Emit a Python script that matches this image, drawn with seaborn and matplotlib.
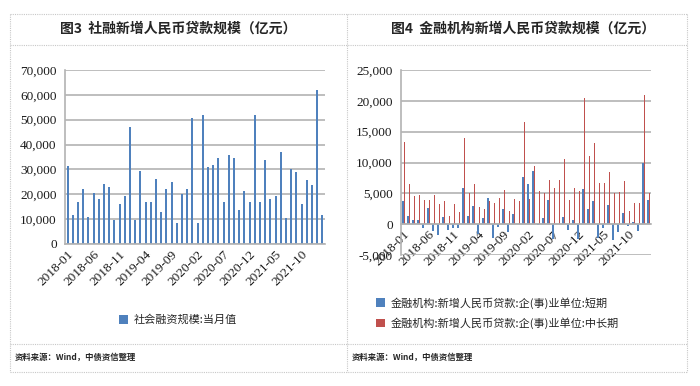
import pandas as pd
import matplotlib
matplotlib.use("Agg")
import matplotlib.pyplot as plt
from matplotlib.lines import Line2D
from matplotlib.ticker import FuncFormatter
import seaborn as sns

# Month categories 2018-01 .. 2022-02
months = pd.date_range("2018-01", periods=50, freq="MS").strftime("%Y-%m").tolist()

# Fig 3: social financing, monthly value (100m yuan)
social_financing = [31500, 11800, 17000, 22300, 11000, 20400, 18300, 24000, 23000, 9600,
                    16000, 19300, 47000, 9500, 29500, 16700, 17000, 26300, 12800, 22000,
                    25000, 8600, 20000, 22000, 50500, 8600, 51800, 31000, 31700, 34700,
                    16700, 35700, 34700, 13800, 21300, 17000, 51800, 17000, 33700, 18300,
                    19300, 37000, 10400, 30000, 28800, 16000, 25800, 23700, 62000, 11600]

# Fig 4: new RMB loans to enterprises, short term / medium-long term
short_term = [3700, 1400, 750, 750, -550, 2600, -1100, -1700, 1100, -1000,
              -700, -700, 5800, 1300, 3000, -1600, 1000, 4300, -2300, -500,
              2500, -1200, 1600, 100, 7700, 6500, 8700, -200, 1000, 3900,
              -2400, 100, 1200, -900, 600, -2400, 5700, 2400, 3800, -2200,
              -700, 3100, -2500, -1200, 1800, -300, 300, -1100, 10000, 4000]
mid_long = [13300, 6500, 4500, 4650, 4000, 4000, 4800, 3300, 3700, 1400,
            3200, 1900, 13900, 5000, 6500, 2800, 2400, 3700, 3500, 4200,
            5500, 2200, 4100, 3800, 16500, 4100, 9500, 5400, 5100, 7200,
            5800, 7100, 10500, 3900, 5800, 5400, 20400, 11000, 13200, 6600,
            6600, 8400, 5100, 5200, 7000, 2200, 3400, 3400, 21000, 5100]

label_sf = "社会融资规模:当月值"
label_short = "金融机构:新增人民币贷款:企(事)业单位:短期"
label_long = "金融机构:新增人民币贷款:企(事)业单位:中长期"

BLUE = "#4F81BD"
RED = "#C0504D"
GRID = "#B3B3B3"

sns.set_style("white")
plt.rcParams['font.family'] = ['Noto Sans CJK SC', 'DejaVu Sans']

W, H = 700, 386
fig = plt.figure(figsize=(W / 100, H / 100), dpi=100)


def fx(x):
    return x / W


def fy(y):
    return 1 - y / H


# dotted table frame
for y in [14, 45, 344, 372]:
    fig.add_artist(Line2D([fx(10), fx(687)], [fy(y), fy(y)], color="#C8C8C8", lw=0.8, ls=(0, (1, 1))))
for x in [10, 347, 687]:
    fig.add_artist(Line2D([fx(x), fx(x)], [fy(14), fy(372)], color="#C8C8C8", lw=0.8, ls=(0, (1, 1))))

fig.text(fx(178), fy(29), "图3  社融新增人民币贷款规模（亿元）", ha="center", va="center",
         fontsize=10, fontweight="bold")
fig.text(fx(523), fy(29), "图4  金融机构新增人民币贷款规模（亿元）", ha="center", va="center",
         fontsize=10, fontweight="bold")
fig.text(fx(15), fy(357), "资料来源：Wind，中债资信整理", ha="left", va="center",
         fontsize=6, fontweight="bold")
fig.text(fx(352), fy(357), "资料来源：Wind，中债资信整理", ha="left", va="center",
         fontsize=6, fontweight="bold")

df1 = pd.DataFrame({"month": months, "value": social_financing})
df2 = pd.DataFrame({
    "month": months * 2,
    "series": [label_short] * len(months) + [label_long] * len(months),
    "value": short_term + mid_long,
})

ax1 = fig.add_axes([fx(65), fy(244), 260 / W, 174 / H])
ax2 = fig.add_axes([fx(401), fy(255), 250 / W, 185 / H])

sns.barplot(data=df1, x="month", y="value", color=BLUE, saturation=1, width=0.36,
            errorbar=None, label=label_sf, linewidth=0, edgecolor="none", ax=ax1)
sns.barplot(data=df2, x="month", y="value", hue="series", palette=[BLUE, RED], saturation=1,
            width=0.56, gap=0, errorbar=None, linewidth=0, edgecolor="none", ax=ax2)

# zero line acts as the category axis on the right panel
ax2.spines["bottom"].set_position(("data", 0))

fmt = FuncFormatter(lambda v, p: f"{v:,.0f}")
for ax, lo, hi, step in [(ax1, 0, 70000, 10000), (ax2, -5000, 25000, 5000)]:
    ax.set_xlim(-0.5, len(months) - 0.5)
    ax.set_ylim(lo, hi)
    ax.set_yticks(range(lo, hi + 1, step))
    ax.yaxis.set_major_formatter(fmt)
    ax.grid(axis="y", color=GRID, lw=1.2, ls="-")
    ax.set_axisbelow(True)
    ax.set_xlabel("")
    ax.set_ylabel("")
    for s in ["top", "right"]:
        ax.spines[s].set_visible(False)
    for s in ["left", "bottom"]:
        ax.spines[s].set_color(GRID)
        ax.spines[s].set_linewidth(1.2)
    ax.set_xticks(range(0, len(months), 5))
    ax.set_xticklabels(months[::5], rotation=45, ha="right", rotation_mode="anchor")
    ax.set_xticks([i - 0.5 for i in range(0, len(months) + 1, 5)], minor=True)
    ax.tick_params(axis="x", which="major", length=0, pad=3)
    ax.tick_params(axis="x", which="minor", length=4, color=GRID, width=1.2, direction="out")
    ax.tick_params(axis="y", length=4, color=GRID, width=1.2, pad=2)
    for t in ax.get_xticklabels() + ax.get_yticklabels():
        t.set_fontfamily("Liberation Serif")
        t.set_fontsize(9.5)
        t.set_color("#1A1A1A")

ax1.legend(loc="center", bbox_to_anchor=(fx(178), fy(320)), bbox_transform=fig.transFigure,
           frameon=False, fontsize=8, handlelength=0.8, handleheight=0.8, handletextpad=0.5)
ax2.legend(loc="upper left", bbox_to_anchor=(fx(366), fy(287)), bbox_transform=fig.transFigure,
           frameon=False, fontsize=8, handlelength=0.8, handleheight=0.8, handletextpad=0.5,
           labelspacing=0.8, title=None)

fig.savefig("out.png", dpi=100)
